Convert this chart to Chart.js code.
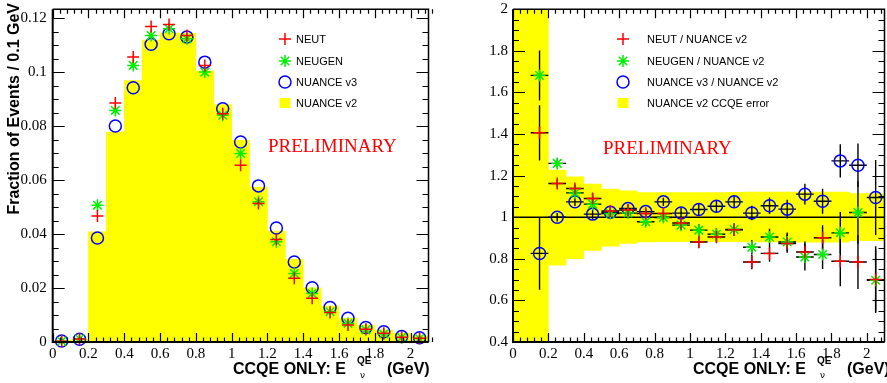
<!DOCTYPE html>
<html lang="en">
<head>
  <meta charset="UTF-8">
  <title>CCQE E_nu^QE - generator comparison</title>
  <script src="https://cdn.jsdelivr.net/npm/chart.js"></script>
  <style>
    body { margin: 0; background: #fff; }
    .wrap { position: relative; width: 887px; height: 383px; overflow: hidden; }
    #leftChart { position: absolute; left: 0; top: 0; }
    #rightChart { position: absolute; left: 440px; top: 0; }
  </style>
</head>
<body>
  <div class="wrap">
    <canvas id="leftChart" width="440" height="383"></canvas>
    <canvas id="rightChart" width="452" height="383"></canvas>
  </div>

  <script>
    // bin centres (GeV), 0.1 GeV bins
    const binCenters = [0.05, 0.15, 0.25, 0.35, 0.45, 0.55, 0.65, 0.75, 0.85, 0.95, 1.05,
                        1.15, 1.25, 1.35, 1.45, 1.55, 1.65, 1.75, 1.85, 1.95, 2.05];

    // left: fraction of events / 0.1 GeV
    const nuanceV2 = [0.0004, 0.0009, 0.0409, 0.0779, 0.0970, 0.1120, 0.1147, 0.1145, 0.1005, 0.0881, 0.0748,
                      0.0575, 0.0411, 0.0307, 0.0201, 0.0133, 0.0088, 0.0063, 0.0044, 0.0032, 0.0023];
    const neut     = [0.0003, 0.0011, 0.0467, 0.0886, 0.1057, 0.1170, 0.1178, 0.1137, 0.1026, 0.0847, 0.0656,
                      0.0514, 0.0380, 0.0236, 0.0162, 0.0109, 0.0063, 0.0047, 0.0032, 0.0018, 0.0014];
    const neugen   = [0.0003, 0.0012, 0.0507, 0.0859, 0.1026, 0.1137, 0.1162, 0.1125, 0.1001, 0.0841, 0.0699,
                      0.0520, 0.0372, 0.0254, 0.0180, 0.0112, 0.0069, 0.0045, 0.0030, 0.0017, 0.0013];
    const nuanceV3 = [0.0004, 0.0010, 0.0386, 0.0801, 0.0943, 0.1104, 0.1143, 0.1131, 0.1038, 0.0865, 0.0742,
                      0.0579, 0.0423, 0.0297, 0.0201, 0.0128, 0.0088, 0.0054, 0.0038, 0.0020, 0.0016];

    // right: ratios to NUANCE v2 (no entry in first bin)
    const neutRatio      = [null, 1.406, 1.162, 1.138, 1.090, 1.030, 1.035, 1.018, 1.018, 0.972, 0.881,
                            0.905, 0.940, 0.785, 0.826, 0.874, 0.833, 0.901, 0.788, 0.785, 0.700];
    const neutRatioErr   = [0, 0.133, 0.02, 0.02, 0.025, 0.02, 0.02, 0.02, 0.02, 0.025, 0.03,
                            0.03, 0.03, 0.035, 0.04, 0.045, 0.05, 0.06, 0.12, 0.13, 0.16];
    const neugenRatio    = [null, 1.682, 1.259, 1.117, 1.063, 1.018, 1.020, 0.978, 0.999, 0.962, 0.938,
                            0.918, 0.941, 0.856, 0.905, 0.881, 0.809, 0.821, 0.925, 1.023, 0.697];
    const neugenRatioErr = [0, 0.12, 0.02, 0.02, 0.025, 0.02, 0.02, 0.02, 0.02, 0.025, 0.03,
                            0.03, 0.03, 0.035, 0.04, 0.045, 0.065, 0.07, 0.1, 0.15, 0.15];
    const nuanceV3Ratio  = [null, 0.826, 1.000, 1.074, 1.015, 1.024, 1.042, 1.027, 1.074, 1.020, 1.037,
                            1.053, 1.074, 1.020, 1.055, 1.039, 1.111, 1.077, 1.271, 1.250, 1.095];
    const nuanceV3RatioErr = [0, 0.175, 0.02, 0.02, 0.025, 0.02, 0.02, 0.02, 0.02, 0.025, 0.03,
                              0.03, 0.03, 0.035, 0.04, 0.045, 0.05, 0.06, 0.08, 0.105, 0.18];
    // NUANCE v2 CCQE error band
    const bandLow  = [0.4, 0.4, 0.769, 0.801, 0.841, 0.861, 0.874, 0.881, 0.882, 0.882, 0.882,
                      0.882, 0.882, 0.881, 0.881, 0.881, 0.880, 0.880, 0.880, 0.887, 0.887];
    const bandHigh = [2.0, 2.0, 1.227, 1.194, 1.159, 1.135, 1.127, 1.118, 1.118, 1.118, 1.118,
                      1.119, 1.120, 1.121, 1.121, 1.121, 1.121, 1.121, 1.121, 1.114, 1.114];

    const xTicks = [0, 0.2, 0.4, 0.6, 0.8, 1, 1.2, 1.4, 1.6, 1.8, 2];

    const RED = '#ff0000', GREEN = '#00ee00', BLUE = '#0000ff', YELLOW = '#ffff00';

    Chart.defaults.font.family = "'Liberation Serif', 'Times New Roman', serif";
    Chart.defaults.font.size = 15;
    Chart.defaults.color = '#000';

    function pts(vals) {
      return binCenters.map((x, i) => ({ x: x, y: vals[i] }));
    }

    function fmt(v) {
      return String(Math.round(v * 1000) / 1000);
    }

    function drawMarker(ctx, style, color, cx, cy, r) {
      ctx.save();
      ctx.lineWidth = 1.5;
      ctx.strokeStyle = color;
      ctx.fillStyle = color;
      ctx.beginPath();
      if (style === 'cross' || style === 'star') {
        ctx.moveTo(cx - r, cy); ctx.lineTo(cx + r, cy);
        ctx.moveTo(cx, cy - r); ctx.lineTo(cx, cy + r);
      }
      if (style === 'star') {
        const d = r * Math.SQRT1_2;
        ctx.moveTo(cx - d, cy - d); ctx.lineTo(cx + d, cy + d);
        ctx.moveTo(cx - d, cy + d); ctx.lineTo(cx + d, cy - d);
      }
      if (style === 'circle') ctx.arc(cx, cy, r, 0, Math.PI * 2);
      if (style === 'box') ctx.fillRect(cx - 5.5, cy - 5, 11, 10);
      ctx.stroke();
      ctx.restore();
    }

    // ROOT-like frame, inward ticks, legend and labels
    const rootStyle = {
      id: 'rootStyle',
      afterDatasetDraw(chart, args, opts) {
        if (args.meta.type !== 'bar') return;
        const { ctx, chartArea: a, scales: { x, y } } = chart;
        ctx.save();
        ctx.beginPath();
        ctx.rect(a.left, a.top, a.right - a.left, a.bottom - a.top);
        ctx.clip();
        ctx.strokeStyle = '#000';
        ctx.lineWidth = 1.4;
        if (opts.refLine !== undefined) {
          const py = y.getPixelForValue(opts.refLine);
          ctx.beginPath();
          ctx.moveTo(a.left, py);
          ctx.lineTo(a.right, py);
          ctx.stroke();
        }
        chart.data.datasets.forEach(ds => {
          if (!ds.errors) return;
          ctx.beginPath();
          ds.data.forEach((p, i) => {
            if (p.y === null) return;
            const px = x.getPixelForValue(p.x);
            const py = y.getPixelForValue(p.y);
            ctx.moveTo(x.getPixelForValue(p.x - 0.05), py);
            ctx.lineTo(x.getPixelForValue(p.x + 0.05), py);
            ctx.moveTo(px, y.getPixelForValue(p.y - ds.errors[i]));
            ctx.lineTo(px, y.getPixelForValue(p.y + ds.errors[i]));
          });
          ctx.stroke();
        });
        ctx.restore();
      },
      afterDraw(chart, args, opts) {
        const { ctx, chartArea: a, scales: { x, y } } = chart;
        ctx.save();
        ctx.strokeStyle = '#000';

        // ticks
        ctx.lineWidth = 1.2;
        ctx.beginPath();
        const nx = Math.round((x.max - x.min) / opts.xMinor);
        for (let i = 0; i <= nx; i++) {
          const px = Math.round(x.getPixelForValue(x.min + i * opts.xMinor)) + 0.5;
          const len = i % 5 === 0 ? 9 : 4.5;
          ctx.moveTo(px, a.bottom); ctx.lineTo(px, a.bottom - len);
          ctx.moveTo(px, a.top); ctx.lineTo(px, a.top + len);
        }
        const ny = Math.floor((y.max - y.min) / opts.yMinor + 1e-6);
        for (let i = 0; i <= ny; i++) {
          const py = Math.round(y.getPixelForValue(y.min + i * opts.yMinor)) + 0.5;
          const len = i % 4 === 0 ? 12 : 6;
          ctx.moveTo(a.left, py); ctx.lineTo(a.left + len, py);
          ctx.moveTo(a.right, py); ctx.lineTo(a.right - len, py);
        }
        ctx.stroke();

        // frame
        ctx.lineWidth = 2;
        ctx.beginPath();
        ctx.moveTo(a.left, a.top); ctx.lineTo(a.left, a.bottom); ctx.lineTo(a.right, a.bottom);
        ctx.stroke();
        ctx.lineWidth = 1.5;
        ctx.beginPath();
        ctx.moveTo(a.left, a.top); ctx.lineTo(a.right, a.top); ctx.lineTo(a.right, a.bottom);
        ctx.stroke();

        // legend
        ctx.font = "11px 'Liberation Sans', Arial, sans-serif";
        ctx.fillStyle = '#000';
        ctx.textBaseline = 'middle';
        ctx.textAlign = 'left';
        opts.legend.forEach((item, i) => {
          const ly = opts.legendY[i];
          drawMarker(ctx, item.style, item.color, opts.legendMarkX, ly, 6);
          ctx.fillText(item.label, opts.legendTextX, ly + 0.5);
        });

        // preliminary
        ctx.font = "19px 'Liberation Serif', 'Times New Roman', serif";
        ctx.fillStyle = '#ff0000';
        ctx.fillText('PRELIMINARY', opts.prelimX, opts.prelimY);

        // x title: CCQE ONLY: E_nu^QE (GeV)
        const tx = opts.xTitleX;
        ctx.fillStyle = '#000';
        ctx.textBaseline = 'alphabetic';
        ctx.font = "bold 16px 'Liberation Sans', Arial, sans-serif";
        ctx.fillText('CCQE ONLY: E', tx, 374);
        ctx.fillText('(GeV)', tx + 154, 374);
        ctx.font = "bold 10px 'Liberation Sans', Arial, sans-serif";
        ctx.fillText('QE', tx + 124, 364);
        ctx.font = "9px 'DejaVu Sans', sans-serif";
        ctx.fillText('\u03bd', tx + 127, 378);

        // y title
        if (opts.yTitle) {
          ctx.save();
          ctx.translate(19, 3);
          ctx.rotate(-Math.PI / 2);
          ctx.textAlign = 'right';
          ctx.font = "bold 16px 'Liberation Sans', Arial, sans-serif";
          ctx.fillText(opts.yTitle, 0, 0);
          ctx.restore();
        }
        ctx.restore();
      }
    };

    function xScale() {
      return {
        type: 'linear',
        min: 0,
        max: 2.1,
        offset: false,
        grid: { display: false, drawTicks: false },
        border: { display: false },
        afterFit: s => { s.height = 41; s.paddingLeft = 0; s.paddingRight = 0; },
        afterBuildTicks: s => { s.ticks = xTicks.map(v => ({ value: v })); },
        ticks: { padding: 3, maxRotation: 0, autoSkip: false, callback: fmt }
      };
    }

    function yFit(width) {
      return s => { s.width = width; s.paddingTop = 0; s.paddingBottom = 0; };
    }

    // left: normalised distributions
    new Chart(document.getElementById('leftChart'), {
      type: 'bar',
      data: {
        datasets: [
          { type: 'scatter', label: 'NEUT', data: pts(neut), pointStyle: 'cross', pointRadius: 6,
            borderColor: RED, borderWidth: 1.5, clip: false },
          { type: 'scatter', label: 'NEUGEN', data: pts(neugen), pointStyle: 'star', pointRadius: 6,
            borderColor: GREEN, borderWidth: 1.5, clip: false },
          { type: 'scatter', label: 'NUANCE v3', data: pts(nuanceV3), pointStyle: 'circle', pointRadius: 6,
            borderColor: BLUE, backgroundColor: 'rgba(0,0,0,0)', borderWidth: 1.5, clip: false },
          { type: 'bar', label: 'NUANCE v2', data: pts(nuanceV2), backgroundColor: YELLOW,
            barPercentage: 1, categoryPercentage: 1, borderWidth: 0 }
        ]
      },
      options: {
        responsive: false,
        animation: false,
        layout: { padding: { top: 9.3, right: 11.5, left: 0, bottom: 0 } },
        scales: {
          x: xScale(),
          y: {
            min: 0,
            max: 0.1234,
            grid: { display: false, drawTicks: false },
            border: { display: false },
            afterFit: yFit(52.7),
            ticks: { stepSize: 0.02, includeBounds: false, padding: 6, callback: fmt }
          }
        },
        plugins: {
          legend: { display: false },
          tooltip: { enabled: false },
          rootStyle: {
            xMinor: 0.04, yMinor: 0.005,
            legend: [
              { label: 'NEUT', style: 'cross', color: RED },
              { label: 'NEUGEN', style: 'star', color: GREEN },
              { label: 'NUANCE v3', style: 'circle', color: BLUE },
              { label: 'NUANCE v2', style: 'box', color: YELLOW }
            ],
            legendY: [39, 61, 82, 103],
            legendMarkX: 285, legendTextX: 296,
            prelimX: 268, prelimY: 147,
            xTitleX: 233,
            yTitle: 'Fraction of Events / 0.1 GeV'
          }
        }
      },
      plugins: [rootStyle]
    });

    // right: ratios to NUANCE v2
    new Chart(document.getElementById('rightChart'), {
      type: 'bar',
      data: {
        datasets: [
          { type: 'scatter', label: 'NEUT / NUANCE v2', data: pts(neutRatio), errors: neutRatioErr,
            pointStyle: 'cross', pointRadius: 6, borderColor: RED, borderWidth: 1.5 },
          { type: 'scatter', label: 'NEUGEN / NUANCE v2', data: pts(neugenRatio), errors: neugenRatioErr,
            pointStyle: 'star', pointRadius: 6, borderColor: GREEN, borderWidth: 1.5 },
          { type: 'scatter', label: 'NUANCE v3 / NUANCE v2', data: pts(nuanceV3Ratio), errors: nuanceV3RatioErr,
            pointStyle: 'circle', pointRadius: 6, borderColor: BLUE, backgroundColor: 'rgba(0,0,0,0)', borderWidth: 1.5 },
          { type: 'bar', label: 'NUANCE v2 CCQE error',
            data: binCenters.map((x, i) => ({ x: x, y: [bandLow[i], bandHigh[i]] })),
            backgroundColor: YELLOW, barPercentage: 1, categoryPercentage: 1, borderWidth: 0 }
        ]
      },
      options: {
        responsive: false,
        animation: false,
        layout: { padding: { top: 9.3, right: 3.4, left: 0, bottom: 0 } },
        scales: {
          x: xScale(),
          y: {
            min: 0.4,
            max: 2,
            grid: { display: false, drawTicks: false },
            border: { display: false },
            afterFit: yFit(73),
            ticks: { stepSize: 0.2, padding: 5, callback: fmt }
          }
        },
        plugins: {
          legend: { display: false },
          tooltip: { enabled: false },
          rootStyle: {
            xMinor: 0.04, yMinor: 0.05,
            refLine: 1,
            legend: [
              { label: 'NEUT / NUANCE v2', style: 'cross', color: RED },
              { label: 'NEUGEN / NUANCE v2', style: 'star', color: GREEN },
              { label: 'NUANCE v3 / NUANCE v2', style: 'circle', color: BLUE },
              { label: 'NUANCE v2 CCQE error', style: 'box', color: YELLOW }
            ],
            legendY: [39, 61, 82, 103],
            legendMarkX: 183, legendTextX: 207,
            prelimX: 163, prelimY: 149,
            xTitleX: 253
          }
        }
      },
      plugins: [rootStyle]
    });
  </script>
</body>
</html>
